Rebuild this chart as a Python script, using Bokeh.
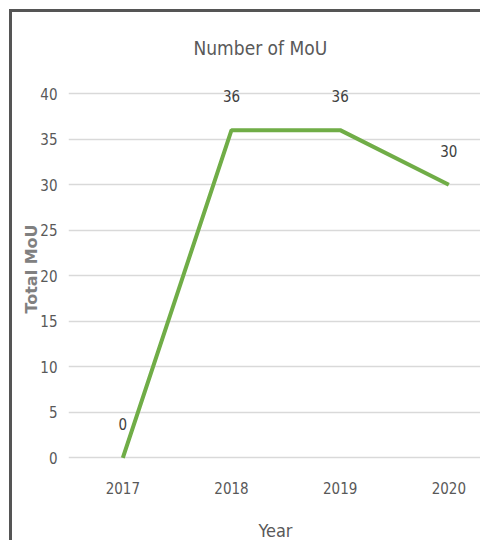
from bokeh.plotting import figure
from bokeh.models import ColumnDataSource, Range1d, LabelSet, SingleIntervalTicker, FixedTicker, NumeralTickFormatter
from bokeh.core.properties import value
from bokeh.embed import file_html
from bokeh.resources import INLINE

years = [2017, 2018, 2019, 2020]
total_mou = [0, 36, 36, 30]
labels = [str(v) for v in total_mou]

NARROW = "DejaVu Sans Condensed"
GREY = "#595959"

src = ColumnDataSource(dict(year=years, total=total_mou, label=labels))

p = figure(
    width=468, height=528,
    x_range=Range1d(2016.5, 2020.31),
    y_range=Range1d(-0.5, 42),
    output_backend="svg", toolbar_location=None,
    min_border_left=56, min_border_right=1, min_border_top=63, min_border_bottom=80,
    title="Number of MoU",
    styles={"box-sizing": "content-box",
            "border-left": "3px solid #555555", "border-top": "3px solid #555555",
            "margin-left": "9px", "margin-top": "9px"},
)
p.outline_line_color = None
p.background_fill_color = "white"
p.border_fill_color = "white"

p.title.text_font = NARROW
p.title.text_font_size = "19px"
p.title.text_font_style = "normal"
p.title.text_color = GREY
p.title.align = "left"
p.title.offset = 125
p.title.standoff = 33

p.line("year", "total", source=src, line_color="#70AD47", line_width=4)

lbl = LabelSet(x="year", y="total", text="label", source=src, y_offset=34,
               text_align="center", text_baseline="middle",
               text_font=value(NARROW), text_font_size=value("15px"),
               text_color="#404040")
p.add_layout(lbl)

p.xaxis.ticker = FixedTicker(ticks=years)
p.xaxis.formatter = NumeralTickFormatter(format="0")
p.yaxis.ticker = SingleIntervalTicker(interval=5)
for ax in (p.xaxis[0], p.yaxis[0]):
    ax.axis_line_color = None
    ax.major_tick_line_color = None
    ax.minor_tick_line_color = None
    ax.major_label_text_font = NARROW
    ax.major_label_text_font_size = "15px"
    ax.major_label_text_color = GREY

p.yaxis.major_label_standoff = 5
p.xaxis.major_label_standoff = 13

p.xaxis.axis_label = "Year"
p.xaxis.axis_label_text_font = NARROW
p.xaxis.axis_label_text_font_size = "18px"
p.xaxis.axis_label_text_font_style = "normal"
p.xaxis.axis_label_text_color = GREY
p.xaxis.axis_label_standoff = 23

p.yaxis.axis_label = "Total MoU"
p.yaxis.axis_label_text_font = "DejaVu Sans"
p.yaxis.axis_label_text_font_size = "16px"
p.yaxis.axis_label_text_font_style = "bold"
p.yaxis.axis_label_text_color = "#808080"
p.yaxis.axis_label_standoff = -4

p.xgrid.grid_line_color = None
p.ygrid.grid_line_color = "#d9d9d9"
p.ygrid.grid_line_width = 1.5

open("out.html", "w").write(file_html(p, INLINE))
